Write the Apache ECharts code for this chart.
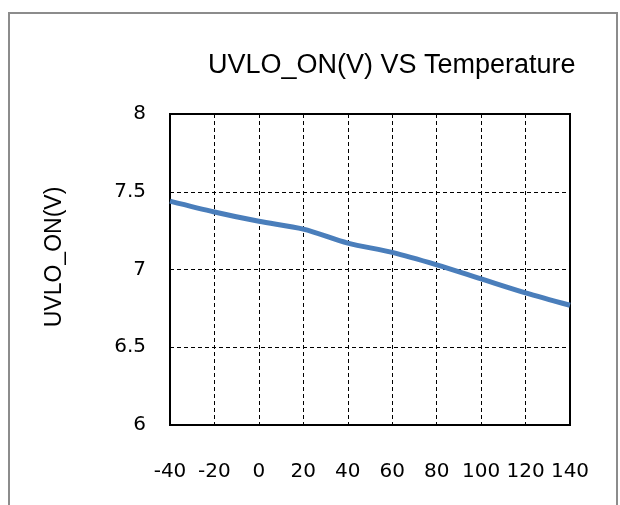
<!DOCTYPE html>
<html>
<head>
<meta charset="utf-8">
<script src="https://cdn.jsdelivr.net/npm/echarts@6/dist/echarts.min.js"></script>
<style>html,body{margin:0;padding:0;background:#fff;}#c{width:620px;height:505px;}</style>
</head>
<body>
<div id="c"></div>
<script>
var temperatures = [-40, -20, 0, 20, 40, 60, 80, 100, 120, 140];
var uvloOn = [7.44, 7.37, 7.31, 7.26, 7.17, 7.11, 7.03, 6.94, 6.85, 6.77];
var titleText = 'UVLO_ON(V) VS Temperature';
var yName = 'UVLO_ON(V)';

var chart = echarts.init(document.getElementById('c'), null, {renderer: 'canvas'});
var pts = temperatures.map(function (t, i) { return [t, uvloOn[i]]; });
chart.setOption({
  animation: false,
  backgroundColor: '#fff',
  title: {
    text: titleText,
    left: 203, top: 47,
    textStyle: {fontFamily: 'Liberation Sans', fontSize: 27, fontWeight: 'normal', color: '#000'}
  },
  grid: {left: 170, right: 50, top: 114, bottom: 80, show: true, borderColor: '#000', borderWidth: 2},
  graphic: [
    {type: 'rect', shape: {x: 9, y: 13, width: 608, height: 520},
     style: {fill: 'none', stroke: '#8c8c8c', lineWidth: 2}, z: -1},
    {type: 'text', x: 55, y: 257, rotation: Math.PI / 2,
     style: {text: yName, fontFamily: 'Liberation Sans', fontSize: 23, fill: '#000',
             align: 'center', verticalAlign: 'middle'}}
  ],
  xAxis: {
    type: 'value', min: -40, max: 140, interval: 20,
    axisLine: {show: true, onZero: false, lineStyle: {color: '#000', width: 2}},
    axisTick: {show: false},
    axisLabel: {margin: 37, fontFamily: 'DejaVu Sans', fontSize: 20, color: '#000'},
    splitLine: {show: true, lineStyle: {color: '#000', type: [4, 3], width: 1}}
  },
  yAxis: {
    type: 'value', min: 6, max: 8, interval: 0.5,
    axisLine: {show: true, onZero: false, lineStyle: {color: '#000', width: 2}},
    axisTick: {show: false},
    axisLabel: {margin: 24, fontFamily: 'DejaVu Sans', fontSize: 20, color: '#000'},
    splitLine: {show: true, lineStyle: {color: '#000', type: [4, 3], width: 1}}
  },
  series: [{
    type: 'line', data: pts, smooth: 0.3, showSymbol: false,
    lineStyle: {color: '#4A7EBB', width: 5}
  }]
});
</script>
</body>
</html>
